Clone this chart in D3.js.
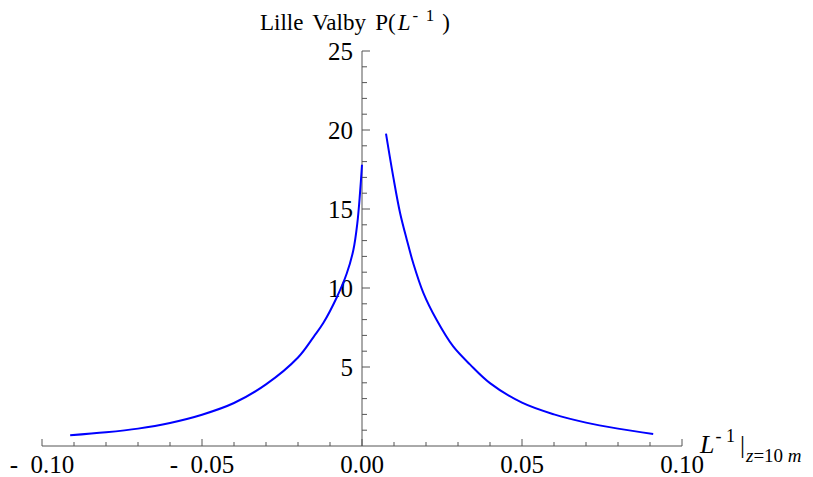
<!DOCTYPE html>
<html><head><meta charset="utf-8">
<script src="https://cdn.jsdelivr.net/npm/d3@7"></script>
<style>body{margin:0;background:#fff}svg text{font-family:"Liberation Serif","Times New Roman",serif;fill:#000}</style>
</head><body><svg id="c" width="813" height="477"></svg>
<script>
const leftX = [-0.0912,-0.08,-0.07,-0.06,-0.05,-0.04,-0.03,-0.02,-0.015,-0.0121,-0.0079,-0.0048,-0.0027,-0.00146,-0.000625,0];
const leftY = [0.675,0.865,1.10,1.46,1.98,2.72,3.90,5.60,6.94,7.78,9.40,10.9,12.4,14.1,16.0,17.8];
const rightX = [0.0075,0.0098,0.0119,0.014,0.016,0.0192,0.0233,0.0285,0.0338,0.04,0.05,0.06,0.07,0.08,0.091];
const rightY = [19.77,17.0,14.75,13.06,11.58,9.68,7.99,6.30,5.15,3.98,2.74,2.00,1.48,1.10,0.76];
const xMajor = [-0.10,-0.05,0.00,0.05,0.10];
const xLabels = ["-\u20020.10","-\u20020.05","0.00","0.05","0.10"];
const yMajor = [5,10,15,20,25];
const yLabels = ["5","10","15","20","25"];

const svg = d3.select("#c");
const x = d3.scaleLinear().domain([-0.1,0.1]).range([42,682]);
const y = d3.scaleLinear().domain([0,25]).range([446,51]);
const axisCol = "#555";

// x axis
svg.append("line").attr("x1",x(-0.1)).attr("x2",x(0.1)).attr("y1",y(0)).attr("y2",y(0)).attr("stroke",axisCol).attr("stroke-width",1);
const xMinor = d3.range(-10,11).map(i=>i/100);
svg.selectAll(".xt").data(xMinor).join("line")
  .attr("x1",d=>x(d)).attr("x2",d=>x(d))
  .attr("y1",y(0)).attr("y2",d=>y(0)-(Math.abs(Math.round(d*100))%5===0?7:4))
  .attr("stroke",axisCol).attr("stroke-width",1);
svg.selectAll(".xl").data(xMajor).join("text")
  .attr("x",d=>x(d)).attr("y",473)
  .attr("text-anchor","middle").attr("font-size",25)
  .text((d,i)=>xLabels[i]);

// y axis
svg.append("line").attr("x1",x(0)).attr("x2",x(0)).attr("y1",y(0)).attr("y2",y(25)).attr("stroke",axisCol).attr("stroke-width",1);
const yMinor = d3.range(1,26);
svg.selectAll(".yt").data(yMinor).join("line")
  .attr("x1",x(0)).attr("x2",d=>x(0)+(d%5===0?8:5))
  .attr("y1",d=>y(d)).attr("y2",d=>y(d))
  .attr("stroke",axisCol).attr("stroke-width",1);
svg.selectAll(".yl").data(yMajor).join("text")
  .attr("x",353).attr("y",d=>y(d)+8.5)
  .attr("text-anchor","end").attr("font-size",25)
  .text((d,i)=>yLabels[i]);

// curves
const line = d3.line().x(d=>x(d[0])).y(d=>y(d[1])).curve(d3.curveCatmullRom.alpha(0.5));
svg.append("path").datum(d3.zip(leftX,leftY)).attr("d",line).attr("fill","none").attr("stroke","#0000ff").attr("stroke-width",2);
svg.append("path").datum(d3.zip(rightX,rightY)).attr("d",line).attr("fill","none").attr("stroke","#0000ff").attr("stroke-width",2);

// title
const t = svg.append("text").attr("x",260).attr("y",30).attr("font-size",23).attr("word-spacing",3.5);
t.append("tspan").text("Lille Valby P(");
t.append("tspan").attr("font-style","italic").attr("dx",2).text("L");
t.append("tspan").attr("font-size",17).attr("dy",-9).attr("dx",2).text("- 1");
t.append("tspan").attr("dy",9).attr("dx",8).text(")");

// x axis label
const xl = svg.append("text").attr("x",700).attr("y",453).attr("font-size",26);
xl.append("tspan").attr("font-style","italic").text("L");
xl.append("tspan").attr("font-size",18).attr("dy",-11).attr("dx",1).text("- 1");
xl.append("tspan").attr("dy",11).attr("dx",5).attr("font-size",25).text("|");
const sub = xl.append("tspan").attr("font-size",19).attr("dy",9).attr("dx",1);
sub.append("tspan").attr("font-style","italic").text("z");
sub.append("tspan").text("=10 ");
sub.append("tspan").attr("font-style","italic").text("m");
</script></body></html>
